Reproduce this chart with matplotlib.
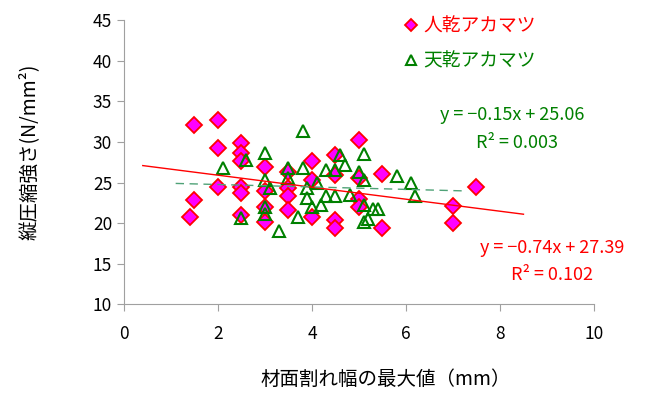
import numpy as np
import matplotlib
matplotlib.use('Agg')
import matplotlib.pyplot as plt

plt.rcParams['font.family'] = ['Noto Sans CJK JP', 'DejaVu Sans']

# 人乾アカマツ (diamonds)
jin_x = [1.4, 1.5, 1.5, 2.0, 2.0, 2.0, 2.5, 2.5, 2.5, 2.5, 2.5, 2.5,
         3.0, 3.0, 3.0, 3.0, 3.5, 3.5, 3.5, 3.5, 4.0, 4.0, 4.0,
         4.5, 4.5, 4.5, 4.5, 5.0, 5.0, 5.0, 5.0, 5.5, 5.5, 7.0, 7.0, 7.5]
jin_y = [20.7, 22.85, 32.1, 32.7, 29.2, 24.4, 29.85, 28.7, 27.6, 24.4, 23.7, 21.0,
         26.95, 23.9, 22.0, 20.2, 26.3, 24.3, 23.3, 21.6, 27.7, 25.3, 20.7,
         28.4, 25.9, 20.4, 19.4, 30.3, 25.6, 23.0, 22.0, 26.1, 19.4, 22.15, 20.06, 24.4]

# 天乾アカマツ (triangles)
ten_x = [2.1, 2.6, 2.5, 3.0, 3.0, 3.1, 3.0, 3.0, 3.3, 3.5, 3.5, 3.8, 3.8,
         3.7, 3.9, 3.9, 4.0, 4.1, 4.3, 4.3, 4.2, 4.5, 4.6, 4.7, 4.5, 4.8,
         5.1, 5.0, 5.1, 5.1, 5.3, 5.4, 5.1, 5.2, 5.8, 6.1, 6.2]
ten_y = [26.8, 27.8, 20.6, 28.6, 25.3, 24.3, 22.0, 21.1, 19.0, 26.8, 25.6, 31.3, 26.8,
         20.8, 24.3, 23.1, 22.0, 25.0, 26.6, 23.3, 22.2, 26.6, 28.4, 27.2, 23.3, 23.5,
         28.5, 26.3, 25.3, 22.2, 21.8, 21.8, 20.1, 20.5, 25.8, 24.9, 23.3]

# trend lines from the chart labels (slope, intercept, R2)
jin_fit = (-0.74, 27.39, 0.102)
ten_fit = (-0.15, 25.06, 0.003)
forecast = 1.0

labels = ['人乾アカマツ', '天乾アカマツ']
xlabel = '材面割れ幅の最大値（mm）'
ylabel = '縦圧縮強さ(N/mm²)'

fig = plt.figure(figsize=(6.45, 3.94), dpi=100)
ax = fig.add_axes([0.1922, 0.2277, 0.7287, 0.7208])

ax.plot(jin_x, jin_y, 'D', ms=8, mfc='#ff00ff', mec='#ff0000', mew=1.3,
        ls='none', label=labels[0], zorder=3)
ax.plot(ten_x, ten_y, '^', ms=9, mfc='none', mec='#008000', mew=1.5,
        ls='none', label=labels[1], zorder=4)

# excel style trendlines, extended one unit on each side
xr = np.array([min(jin_x) - forecast, max(jin_x) + forecast])
ax.plot(xr, jin_fit[0] * xr + jin_fit[1], color='#ff0000', lw=1.0, zorder=5)
xg = np.array([min(ten_x) - forecast, max(ten_x) + forecast])
ax.plot(xg, ten_fit[0] * xg + ten_fit[1], color='#4fa277', lw=1.0,
        ls=(0, (6, 4)), zorder=5)

def eq(fit):
    return 'y = −%.2fx + %.2f' % (-fit[0], fit[1]), 'R² = %.3f' % fit[2]

g1, g2 = eq(ten_fit)
r1, r2 = eq(jin_fit)
ax.text(0.825, 0.6665, g1, transform=ax.transAxes, ha='center', va='center',
        color='#008000', fontsize=13)
ax.text(0.836, 0.568, g2, transform=ax.transAxes, ha='center', va='center',
        color='#008000', fontsize=13)
ax.text(0.911, 0.198, r1, transform=ax.transAxes, ha='center', va='center',
        color='#ff0000', fontsize=13, clip_on=False)
ax.text(0.911, 0.103, r2, transform=ax.transAxes, ha='center', va='center',
        color='#ff0000', fontsize=13, clip_on=False)

ax.set_xlim(0, 10)
ax.set_ylim(10, 45)
ax.set_xticks(np.arange(0, 11, 2))
ax.set_yticks(np.arange(10, 46, 5))
for s in ['top', 'right']:
    ax.spines[s].set_visible(False)
for s in ['left', 'bottom']:
    ax.spines[s].set_color('#a0a0a0')
ax.tick_params(colors='#a0a0a0', labelcolor='black', labelsize=12.5, length=5)
ax.tick_params(axis='x', pad=10)

ax.set_xlabel(xlabel, fontsize=14)
ax.set_ylabel(ylabel, fontsize=14)
ax.xaxis.set_label_coords(0.557, -0.228)
ax.yaxis.set_label_coords(-0.18, 0.536)

leg = ax.legend(loc='upper left', bbox_to_anchor=(0.55, 1.075), frameon=False,
                fontsize=13.5, handletextpad=0.1, labelspacing=0.75,
                handlelength=1.2, markerscale=0.75)
for t, c in zip(leg.get_texts(), ['#ff0000', '#008000']):
    t.set_color(c)

fig.savefig('out.png', dpi=100)
